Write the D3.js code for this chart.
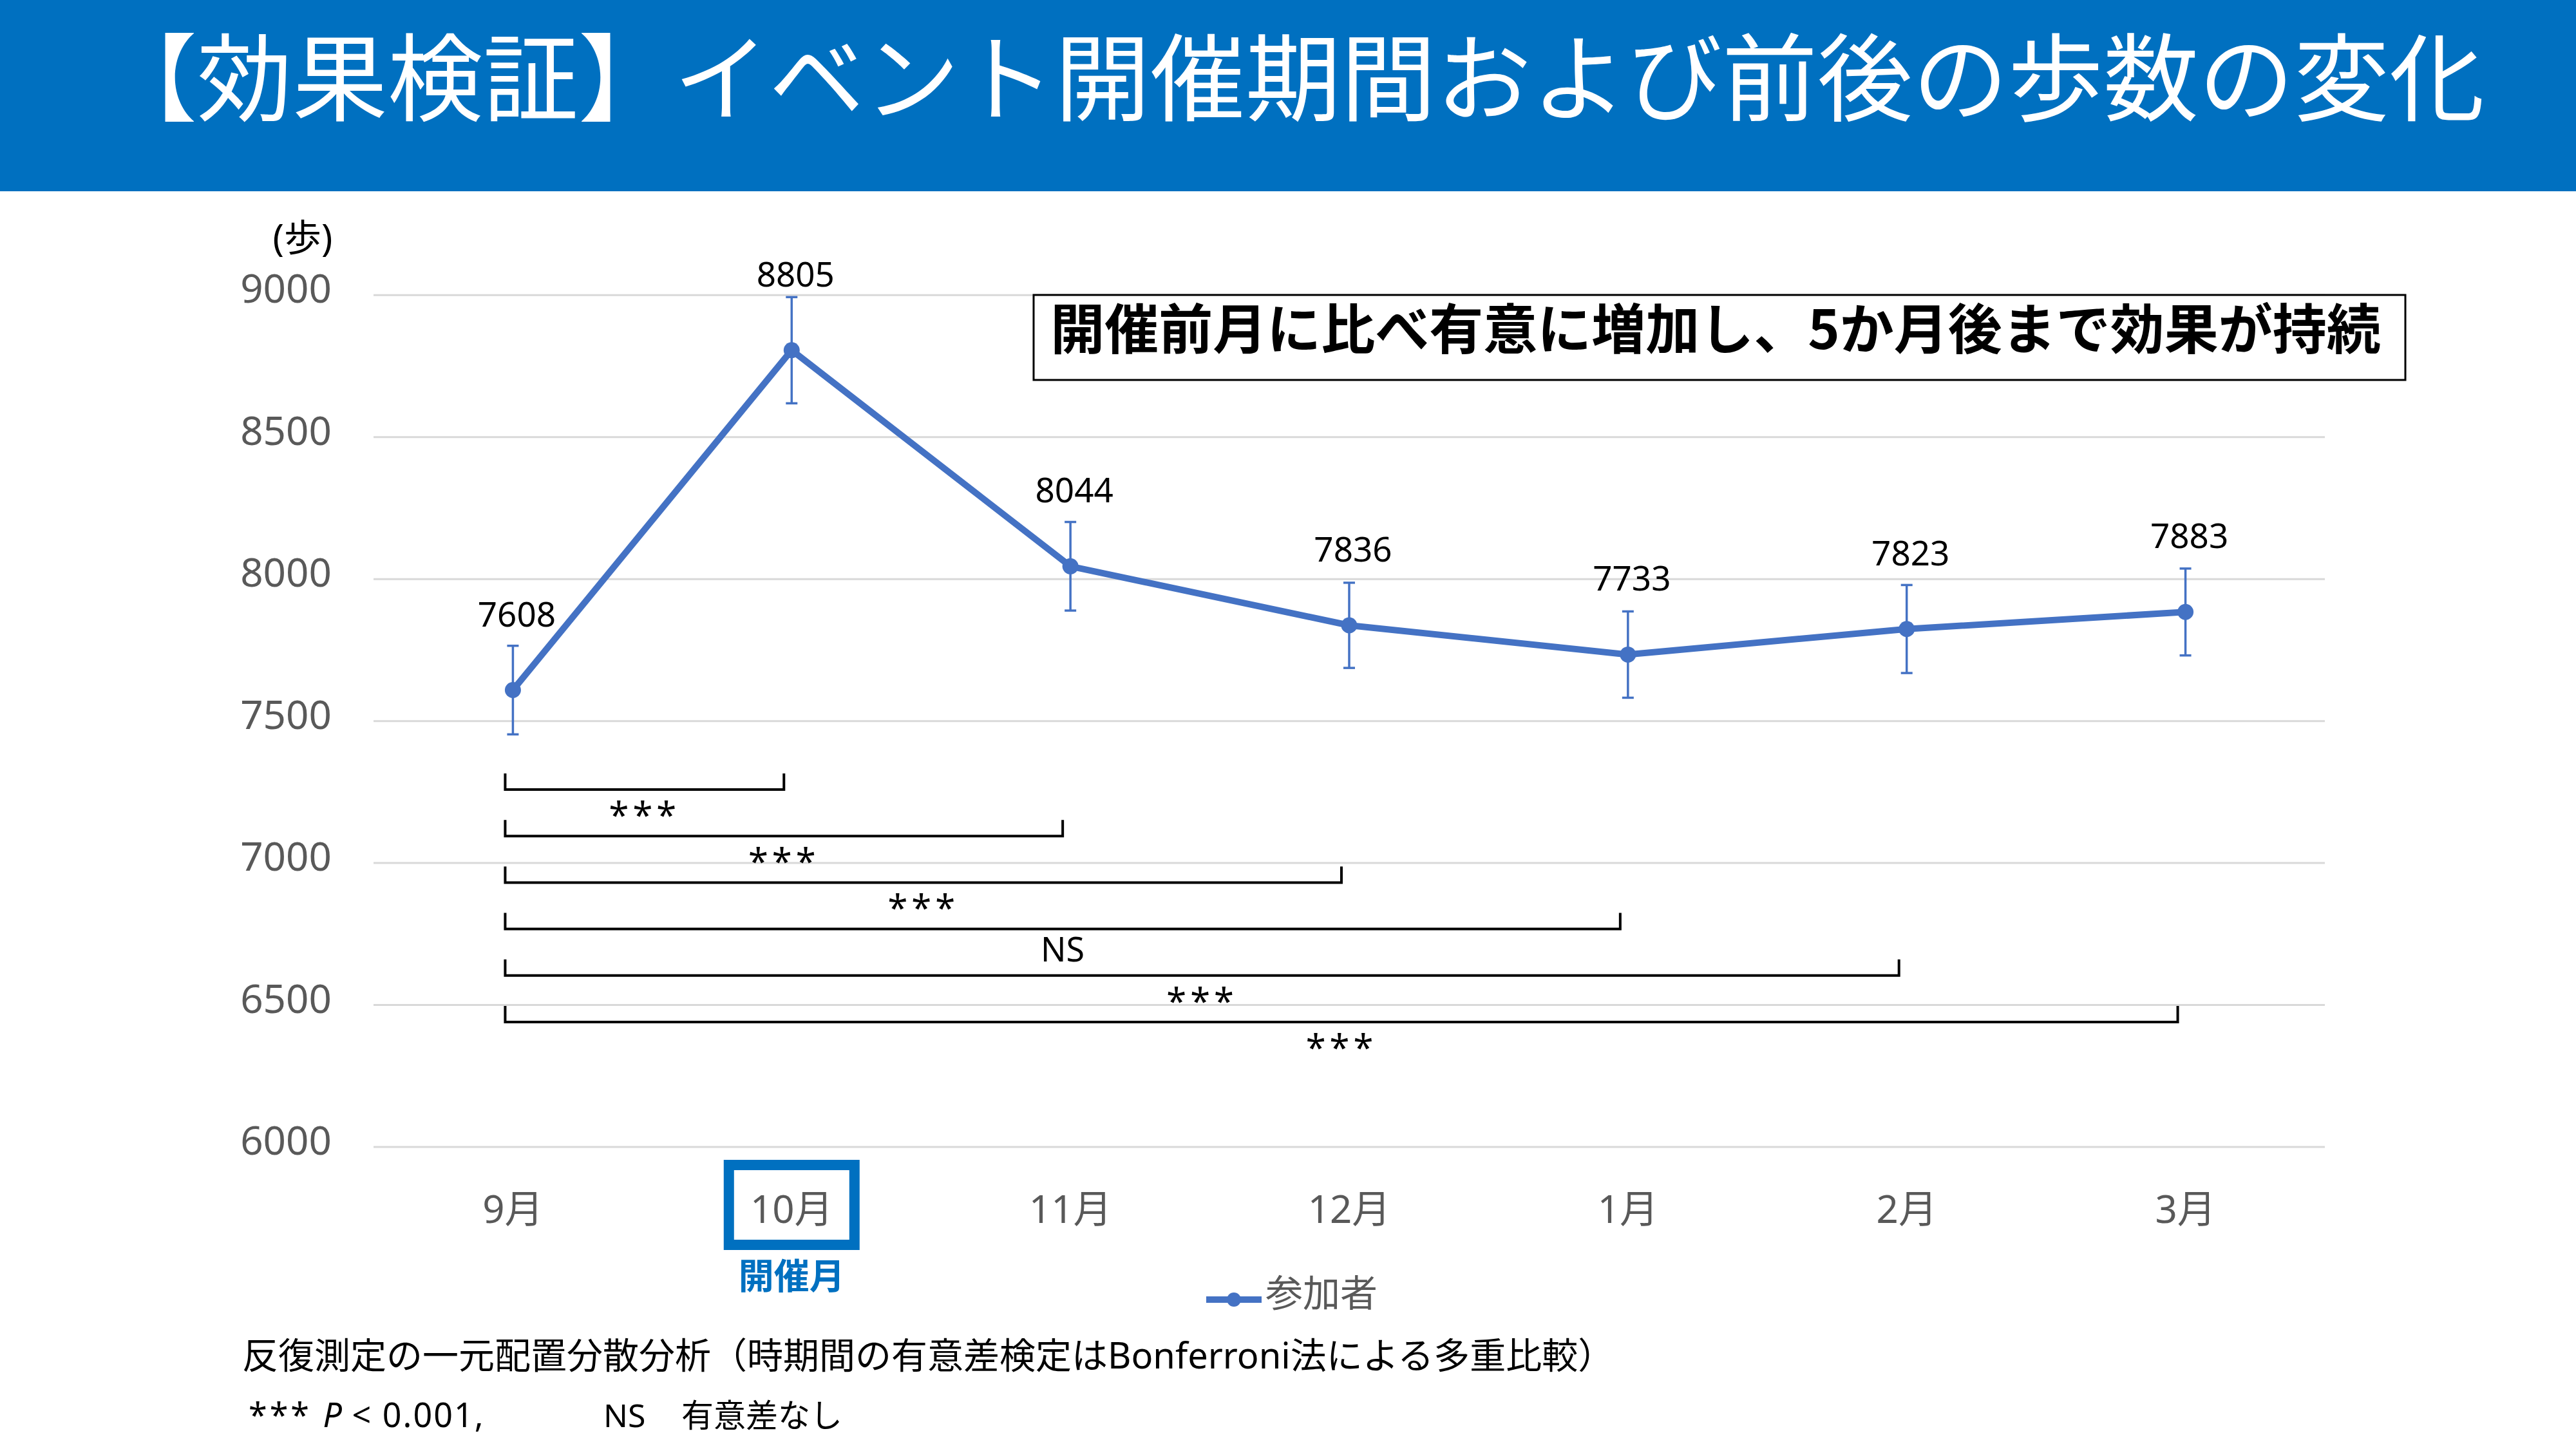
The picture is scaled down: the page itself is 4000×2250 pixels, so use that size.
<!DOCTYPE html>
<html>
<head>
<meta charset="utf-8">
<script src="https://cdn.jsdelivr.net/npm/d3@7"></script>
<style>
  body { margin: 0; background: #fff; }
  text { font-family: "Noto Sans", "Noto Sans CJK JP", sans-serif; }
</style>
</head>
<body>
<div class="vis-holder"></div>
<script>
// data
var months = ['9月', '10月', '11月', '12月', '1月', '2月', '3月'];
var steps = [7608, 8805, 8044, 7836, 7733, 7823, 7883];
var errors = [156, 187, 156, 150, 152, 155, 153];
var yTicks = [6000, 6500, 7000, 7500, 8000, 8500, 9000];
// pairwise comparisons against 9月
var compareTo = ['10月', '11月', '12月', '1月', '2月', '3月'];
var compareSig = ['***', '***', '***', 'NS', '***', '***'];

var width = 4000;
var height = 2250;
var margin = { top: 458, bottom: 470, left: 580, right: 390 };

var svg = d3.select('div.vis-holder')
            .append('svg')
            .attr('width', width)
            .attr('height', height)
            .style('background', '#ffffff');

// header band
svg.append('rect')
   .attr('x', 0).attr('y', 0)
   .attr('width', width).attr('height', 297)
   .style('fill', '#0070C0');

svg.append('text')
   .attr('x', 2008)
   .attr('y', 176)
   .attr('text-anchor', 'middle')
   .style('font-family', '"Noto Sans CJK JP", sans-serif')
   .style('font-size', '148px')
   .style('fill', '#ffffff')
   .text('【効果検証】イベント開催期間および前後の歩数の変化');

var xScale = d3.scaleBand()
               .domain(months)
               .range([margin.left, width - margin.right]);

var yScale = d3.scaleLinear()
               .domain([6000, 9000])
               .range([1780.5, 457.8]);

function cx(m) { return xScale(m) + xScale.bandwidth() / 2; }

// y axis with gridlines
var yAxis = svg.append('g')
               .attr('transform', `translate(${margin.left}, 0)`)
               .call(d3.axisLeft(yScale)
                       .tickValues(yTicks)
                       .tickSize(-(width - margin.left - margin.right))
                       .tickPadding(65)
                       .tickFormat(d3.format('d')));
yAxis.select('.domain').remove();
yAxis.selectAll('.tick line')
     .style('stroke', '#d9d9d9')
     .style('stroke-width', 3);
yAxis.selectAll('.tick text')
     .attr('dy', null)
     .attr('y', 12)
     .style('font-size', '62px')
     .style('fill', '#595959');

svg.append('text')
   .attr('x', 470)
   .attr('y', 390)
   .attr('text-anchor', 'middle')
   .style('font-size', '58px')
   .style('fill', '#000')
   .text('(歩)');

// x axis
var xAxis = svg.append('g')
               .attr('transform', `translate(0, ${yScale(6000)})`)
               .call(d3.axisBottom(xScale).tickSize(0));
xAxis.select('.domain').remove();
xAxis.selectAll('.tick text')
     .attr('dy', null)
     .attr('y', 118)
     .style('font-size', '60px')
     .style('fill', '#595959');

// highlight event month
svg.append('rect')
   .attr('x', cx('10月') - 97.5)
   .attr('y', 1809)
   .attr('width', 195)
   .attr('height', 124)
   .style('fill', 'none')
   .style('stroke', '#0070C0')
   .style('stroke-width', 16);

svg.append('text')
   .attr('x', cx('10月'))
   .attr('y', 2001)
   .attr('text-anchor', 'middle')
   .style('font-family', '"Noto Sans CJK JP", sans-serif')
   .style('font-weight', 'bold')
   .style('font-size', '55px')
   .style('fill', '#0070C0')
   .text('開催月');

var mydata = months.map(function(m, i) {
  return { month: m, n: steps[i], err: errors[i] };
});

// error bars
var eb = svg.append('g')
            .selectAll('g')
            .data(mydata)
            .enter()
            .append('g')
            .style('stroke', '#4472C4')
            .style('stroke-width', 3.5);
eb.append('line')
  .attr('x1', d => cx(d.month)).attr('x2', d => cx(d.month))
  .attr('y1', d => yScale(d.n + d.err)).attr('y2', d => yScale(d.n - d.err));
eb.append('line')
  .attr('x1', d => cx(d.month) - 9).attr('x2', d => cx(d.month) + 9)
  .attr('y1', d => yScale(d.n + d.err)).attr('y2', d => yScale(d.n + d.err));
eb.append('line')
  .attr('x1', d => cx(d.month) - 9).attr('x2', d => cx(d.month) + 9)
  .attr('y1', d => yScale(d.n - d.err)).attr('y2', d => yScale(d.n - d.err));

// line and markers
var line = d3.line()
             .x(d => cx(d.month))
             .y(d => yScale(d.n));

svg.append('path')
   .datum(mydata)
   .attr('d', line)
   .style('fill', 'none')
   .style('stroke', '#4472C4')
   .style('stroke-width', 10)
   .style('stroke-linejoin', 'round');

svg.append('g')
   .selectAll('circle')
   .data(mydata)
   .enter()
   .append('circle')
   .attr('cx', d => cx(d.month))
   .attr('cy', d => yScale(d.n))
   .attr('r', 12.5)
   .style('fill', '#4472C4');

// data labels
svg.append('g')
   .selectAll('text')
   .data(mydata)
   .enter()
   .append('text')
   .attr('x', d => cx(d.month) + 6)
   .attr('y', d => yScale(d.n) - 99)
   .attr('text-anchor', 'middle')
   .style('font-size', '53px')
   .style('fill', '#000')
   .text(d => d.n);

// significance brackets
var rowScale = d3.scalePoint()
                 .domain(compareTo)
                 .range([1226, 1587]);

var brackets = svg.append('g')
                  .selectAll('g')
                  .data(compareTo)
                  .enter()
                  .append('g');

brackets.append('path')
        .attr('d', function(m) {
          var x0 = cx(months[0]) - 12, x1 = cx(m) - 12, yy = rowScale(m);
          return `M${x0},${yy - 25}V${yy}H${x1}V${yy - 25}`;
        })
        .style('fill', 'none')
        .style('stroke', '#000')
        .style('stroke-width', 4);

brackets.append('text')
        .attr('x', m => ((cx(months[0]) + cx(m)) / 2) - 12)
        .attr('y', (m, i) => rowScale(m) + (compareSig[i] === 'NS' ? 50 : 60))
        .attr('text-anchor', 'middle')
        .style('font-size', (m, i) => compareSig[i] === 'NS' ? '52px' : '56px')
        .style('letter-spacing', (m, i) => compareSig[i] === 'NS' ? '0px' : '6px')
        .style('fill', '#000')
        .text((m, i) => compareSig[i]);

// annotation box
svg.append('rect')
   .attr('x', 1605)
   .attr('y', 458)
   .attr('width', 2130)
   .attr('height', 132)
   .style('fill', '#fff')
   .style('stroke', '#000')
   .style('stroke-width', 3);

svg.append('text')
   .attr('x', 2664)
   .attr('y', 542)
   .attr('text-anchor', 'middle')
   .style('font-family', '"Noto Sans CJK JP", sans-serif')
   .style('font-weight', 'bold')
   .style('font-size', '84px')
   .style('fill', '#000')
   .text('開催前月に比べ有意に増加し、5か月後まで効果が持続');

// legend
var legend = svg.append('g');
legend.append('line')
      .attr('x1', 1873).attr('x2', 1959)
      .attr('y1', 2018).attr('y2', 2018)
      .style('stroke', '#4472C4')
      .style('stroke-width', 10);
legend.append('circle')
      .attr('cx', 1916).attr('cy', 2018)
      .attr('r', 11)
      .style('fill', '#4472C4');
legend.append('text')
      .attr('x', 1965)
      .attr('y', 2029)
      .style('font-family', '"Noto Sans CJK JP", sans-serif')
      .style('font-size', '58px')
      .style('fill', '#595959')
      .text('参加者');

// footnotes
svg.append('text')
   .attr('x', 376)
   .attr('y', 2125)
   .style('font-size', '56px')
   .style('fill', '#000')
   .text('反復測定の一元配置分散分析（時期間の有意差検定はBonferroni法による多重比較）');

var note = svg.append('text')
              .attr('x', 386)
              .attr('y', 2216)
              .style('font-size', '52px')
              .style('fill', '#000');
note.append('tspan').style('letter-spacing', '4px').text('*** ');
note.append('tspan').style('font-style', 'italic').text('P');
note.append('tspan').style('letter-spacing', '2px').text(' < 0.001,');

svg.append('text')
   .attr('x', 937)
   .attr('y', 2216)
   .style('font-size', '50px')
   .style('fill', '#000')
   .text('NS');

svg.append('text')
   .attr('x', 1058)
   .attr('y', 2216)
   .style('font-family', '"Noto Sans CJK JP", sans-serif')
   .style('font-size', '50px')
   .style('fill', '#000')
   .text('有意差なし');
</script>
</body>
</html>
